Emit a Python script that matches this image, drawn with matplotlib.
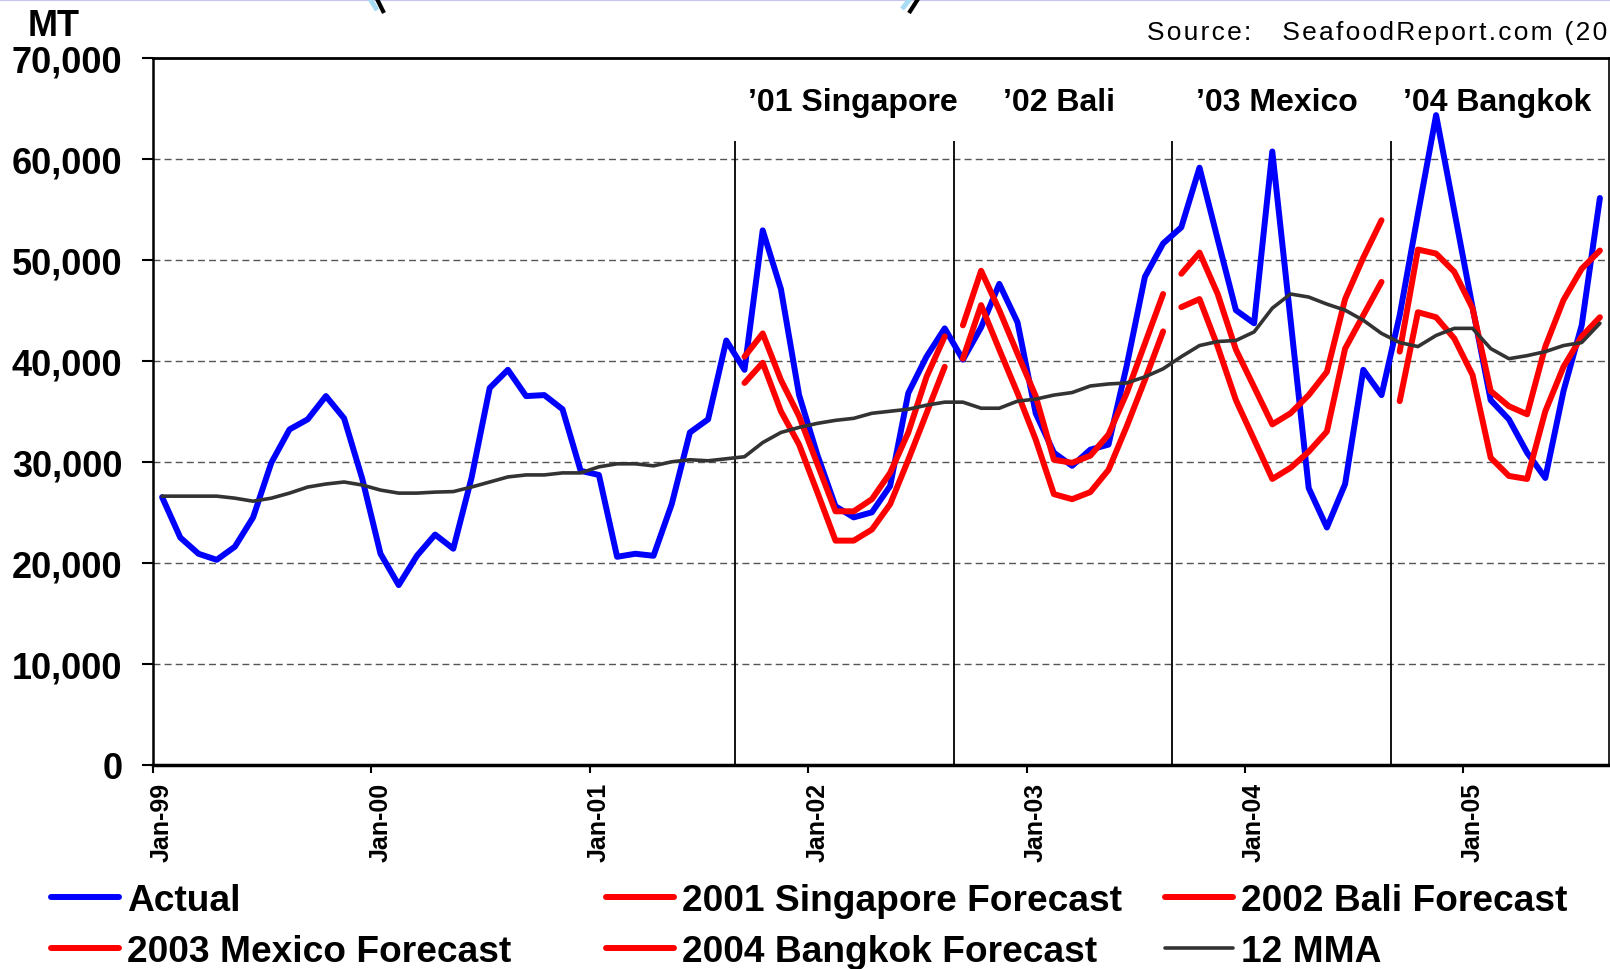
import numpy as np
import matplotlib
matplotlib.use("Agg")
import matplotlib.pyplot as plt
from matplotlib.lines import Line2D
from matplotlib.ticker import FixedLocator, FuncFormatter

plt.rcParams['font.family'] = ['Liberation Sans', 'DejaVu Sans']
plt.rcParams['font.weight'] = 'bold'

# monthly volume in thousand MT, Jan-99 .. Aug-05
actual = [26.5, 22.5, 20.9, 20.3, 21.6, 24.5, 29.9, 33.2, 34.2, 36.5, 34.3, 28.3,
          20.9, 17.8, 20.7, 22.8, 21.4, 28.4, 37.3, 39.1, 36.5, 36.6, 35.2, 29.1,
          28.7, 20.6, 20.9, 20.7, 25.8, 32.9, 34.2, 42.0, 39.1, 52.9, 47.1, 36.6,
          30.7, 25.6, 24.5, 25.0, 27.6, 36.8, 40.4, 43.2, 40.1, 43.3, 47.6, 43.8,
          34.8, 30.9, 29.6, 31.2, 31.7, 39.5, 48.3, 51.6, 53.2, 59.1, 52.0, 45.0,
          43.7, 60.7, 44.1, 27.4, 23.5, 27.8, 39.1, 36.6, 44.5, 54.5, 64.3, 54.8,
          45.3, 36.1, 34.2, 30.9, 28.4, 37.0, 43.5, 56.1]

mma_12 = [26.6, 26.6, 26.6, 26.6, 26.4, 26.1, 26.4, 26.9, 27.5, 27.8, 28.0, 27.7,
          27.2, 26.9, 26.9, 27.0, 27.05, 27.5, 28.0, 28.5, 28.7, 28.7, 28.9, 28.9,
          29.5, 29.8, 29.8, 29.6, 30.0, 30.2, 30.1, 30.3, 30.5, 31.9, 32.9, 33.4,
          33.8, 34.1, 34.3, 34.8, 35.0, 35.2, 35.6, 35.9, 35.9, 35.3, 35.3, 36.0,
          36.2, 36.6, 36.85, 37.5, 37.7, 37.8, 38.4, 39.2, 40.4, 41.5, 41.9, 42.0,
          42.85, 45.2, 46.6, 46.3, 45.6, 45.0, 44.0, 42.7, 41.8, 41.4, 42.5, 43.2,
          43.2, 41.2, 40.2, 40.5, 40.9, 41.5, 41.8, 43.7]

year_labels = ['Jan-99', 'Jan-00', 'Jan-01', 'Jan-02', 'Jan-03', 'Jan-04', 'Jan-05']

# conference forecasts (high / low), Sep through Aug
sing_start = 32
sing_hi = [40.4, 42.7, 38.1, 34.5, 29.8, 25.1, 25.1, 26.3, 28.9, 32.9, 38.4, 42.4]
sing_lo = [37.8, 39.8, 35.0, 31.7, 27.0, 22.2, 22.2, 23.3, 25.8, 30.2, 34.8, 39.4]

bali_start = 44
bali_hi = [43.5, 48.9, 45.0, 40.7, 36.5, 30.2, 29.9, 30.6, 32.7, 36.8, 41.7, 46.6]
bali_lo = [40.2, 45.5, 41.1, 36.8, 32.2, 26.8, 26.3, 27.0, 29.2, 33.5, 38.1, 42.9]

mex_start = 56
mex_hi = [48.6, 50.7, 46.6, 41.1, 37.4, 33.7, 34.8, 36.6, 38.9, 46.1, 50.2, 53.9]
mex_lo = [45.3, 46.1, 41.4, 36.1, 32.2, 28.3, 29.4, 31.0, 33.0, 41.2, 44.5, 47.8]

bkk_start = 68
bkk_hi = [40.9, 51.0, 50.6, 48.8, 45.2, 37.0, 35.5, 34.7, 41.4, 46.0, 49.1, 50.9]
bkk_lo = [36.0, 44.8, 44.3, 42.2, 38.6, 30.4, 28.6, 28.3, 35.0, 39.4, 42.4, 44.3]

conf_names = ["\u201901 Singapore", "\u201902 Bali", "\u201903 Mexico", "\u201904 Bangkok"]
conf_label_x = [32.2, 46.2, 56.8, 68.2]
forecast_names = ['2001 Singapore Forecast', '2002 Bali Forecast',
                  '2003 Mexico Forecast', '2004 Bangkok Forecast']

forecasts = [(sing_start, sing_hi, sing_lo), (bali_start, bali_hi, bali_lo),
             (mex_start, mex_hi, mex_lo), (bkk_start, bkk_hi, bkk_lo)]

W, H = 1610, 970
fig = plt.figure(figsize=(W / 100, H / 100), dpi=100)
ax = fig.add_axes([153 / W, 1 - 766 / H, (1609 - 153) / W, (766 - 58.5) / H])

x = np.arange(len(actual))
line_kw = dict(solid_capstyle='round', solid_joinstyle='round')

h_actual, = ax.plot(x, np.array(actual) * 1000, color='#0000ff', lw=4.3,
                    zorder=3, label='Actual', **line_kw)
fc_handles = []
for (start, hi, lo), name in zip(forecasts, forecast_names):
    xs = np.arange(start, start + len(hi))
    h, = ax.plot(xs, np.array(hi) * 1000, color='#ff0000', lw=4.3, zorder=4,
                 label=name, **line_kw)
    ax.plot(xs, np.array(lo) * 1000, color='#ff0000', lw=4.3, zorder=4, **line_kw)
    fc_handles.append(h)
h_mma, = ax.plot(x, np.array(mma_12) * 1000, color='#333333', lw=2.6, zorder=5,
                 label='12 MMA', **line_kw)

# start of each forecast year
ax.vlines([s - 0.5 for s, _, _ in forecasts], 0, 61700, colors='black', lw=1.3, zorder=2)
for name, xp in zip(conf_names, conf_label_x):
    ax.text(xp, 64800, name, fontsize=23, fontweight='bold', va='baseline', ha='left')

for v in range(10000, 70000, 10000):
    ax.axhline(v, color='#555555', lw=1.0, dashes=(5, 3), zorder=1)

ax.set_xlim(-0.5, len(actual) - 0.5)
ax.set_ylim(0, 70000)

ax.yaxis.set_major_locator(FixedLocator(range(0, 70001, 10000)))
ax.yaxis.set_major_formatter(FuncFormatter(lambda v, p: f'{v:,.0f}'))
ax.tick_params(axis='y', direction='out', length=8, width=1.5, pad=14, labelsize=26)

year_pos = [12 * k for k in range(len(year_labels))]
ax.xaxis.set_major_locator(FixedLocator([p - 0.5 for p in year_pos]))
ax.xaxis.set_major_formatter(FuncFormatter(lambda v, p: ''))
ax.xaxis.set_minor_locator(FixedLocator(year_pos))
ax.set_xticklabels(year_labels, minor=True, rotation=90, fontsize=18, fontweight='bold')
ax.tick_params(axis='x', which='major', direction='out', length=6, width=1.5)
ax.tick_params(axis='x', which='minor', length=0, pad=12)

for side, lw in [('left', 1.8), ('bottom', 2.5), ('top', 2.0), ('right', 1.2)]:
    ax.spines[side].set_linewidth(lw)
    ax.spines[side].set_color('black')

fig.text(28 / W, 1 - 36 / H, 'MT', fontsize=26, fontweight='bold', va='baseline')
src = '\u200a'.join('Source:   SeafoodReport.com (2005)')
fig.text(1147 / W, 1 - 40 / H, src, fontsize=19, fontweight='normal', va='baseline')

# legend, three columns placed independently
leg_cols = [([h_actual, fc_handles[2]], 51), ([fc_handles[0], fc_handles[3]], 606),
            ([fc_handles[1], h_mma], 1165)]
for hs, xpx in leg_cols:
    fig.legend(handles=hs, labels=[h.get_label() for h in hs], loc='upper left',
               bbox_to_anchor=(xpx / W, 1 - 884 / H), frameon=False, borderpad=0,
               borderaxespad=0, handlelength=1.84, handletextpad=0.22,
               labelspacing=0.42, prop={'size': 26.7, 'weight': 'bold'})

# remains of the banner at the top edge
fig.add_artist(Line2D([0, 1], [1 - 0.8 / H] * 2, color='#c4c4ee', lw=1.5))
for (x0, y0, x1, y1), col, lw in [((370, 0, 377, 11), '#a8dcf5', 3.5),
                                  ((377, 0, 384, 14), 'black', 3.0),
                                  ((910, 0, 902, 10), '#a8dcf5', 3.5),
                                  ((918, 0, 909, 14), 'black', 3.0)]:
    fig.add_artist(Line2D([x0 / W, x1 / W], [1 - y0 / H, 1 - y1 / H], color=col,
                          lw=lw, solid_capstyle='butt'))

fig.savefig('out.png', dpi=100)
